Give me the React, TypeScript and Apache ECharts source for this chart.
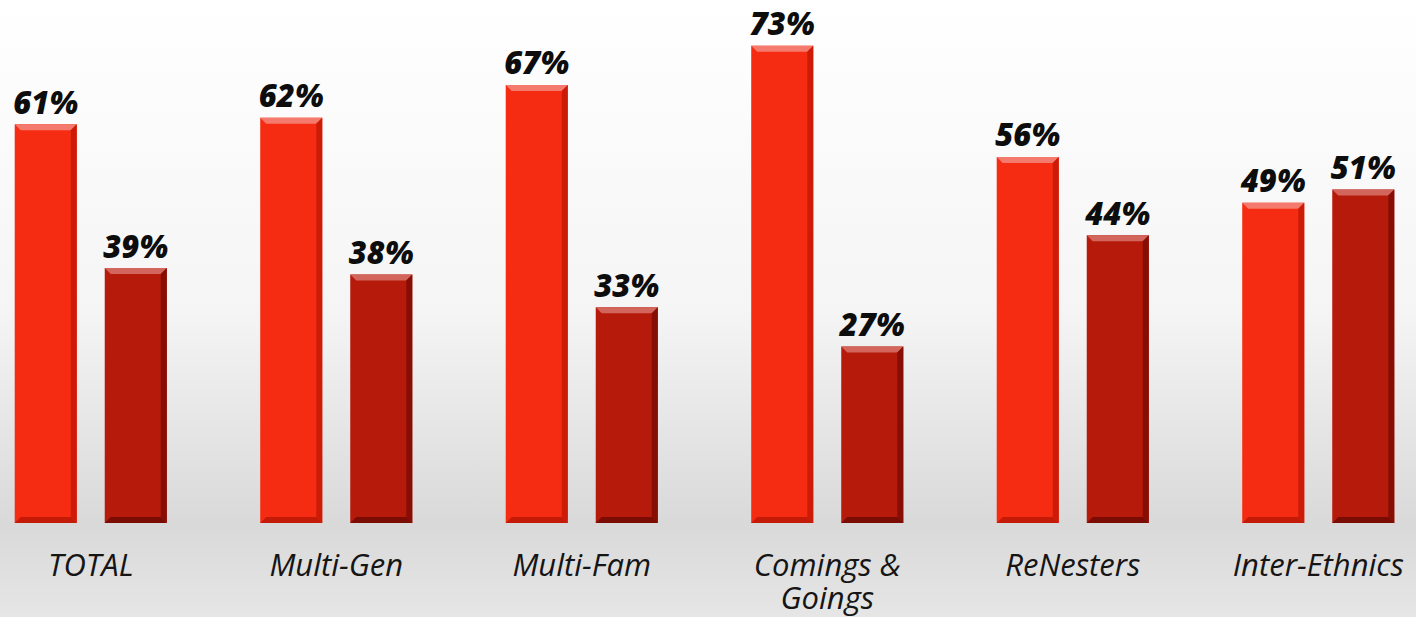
import React, { useEffect, useRef } from "react";
import * as echarts from "echarts";

const categories = ["TOTAL", "Multi-Gen", "Multi-Fam", "Comings &\nGoings", "ReNesters", "Inter-Ethnics"];
const seriesA = [61, 62, 67, 73, 56, 49];
const seriesB = [39, 38, 33, 27, 44, 51];

const palettes = [
  { main: "#f62c12", top: "#f37a6c", right: "#cc1c08", bottom: "#c41a08" },
  { main: "#b51a0b", top: "#d2665c", right: "#860e05", bottom: "#7a0c04" },
];

export default function App() {
  const ref = useRef<HTMLDivElement>(null);
  useEffect(() => {
    const chart = echarts.init(ref.current!, null, { renderer: "svg" });
    const makeRender = (sIdx: number) => (params: any, api: any) => {
      const ci = api.value(0);
      const val = api.value(1);
      const base = api.coord([ci, 0]);
      const topPt = api.coord([ci, val]);
      const band = api.size([1, 0])[0];
      const barW = band * 0.2527;
      const gap = band * 0.114;
      const x = sIdx === 0 ? base[0] - gap / 2 - barW : base[0] + gap / 2;
      const y = topPt[1];
      const h = base[1] - y;
      const p = palettes[sIdx];
      const bev = 6;
      return {
        type: "group",
        children: [
          { type: "rect", shape: { x, y, width: barW, height: h }, style: { fill: p.main } },
          {
            type: "polygon",
            shape: { points: [[x, y], [x + barW, y], [x + barW - bev, y + bev], [x + bev, y + bev]] },
            style: { fill: p.top },
          },
          {
            type: "polygon",
            shape: { points: [[x + barW, y], [x + barW, y + h], [x + barW - bev, y + h - bev], [x + barW - bev, y + bev]] },
            style: { fill: p.right },
          },
          {
            type: "polygon",
            shape: { points: [[x, y + h], [x + barW, y + h], [x + barW - bev, y + h - bev], [x + bev, y + h - bev]] },
            style: { fill: p.bottom },
          },
          {
            type: "text",
            style: {
              x: x + barW / 2,
              y: y - 7,
              text: val + "%",
              align: "center",
              verticalAlign: "bottom",
              fontFamily: "Open Sans",
              fontWeight: 800,
              fontStyle: "italic",
              fontSize: 31,
              fill: "#0d0d0d",
            },
          },
        ],
      };
    };
    chart.setOption({
      animation: false,
      backgroundColor: {
        type: "linear", x: 0, y: 0, x2: 0, y2: 1,
        colorStops: [
          { offset: 0, color: "#ffffff" },
          { offset: 0.5, color: "#f5f5f5" },
          { offset: 0.85, color: "#d9d9d9" },
          { offset: 1, color: "#e6e6e6" },
        ],
      },
      grid: { left: 0, right: 0, top: -3, bottom: 94 },
      xAxis: {
        type: "category",
        data: categories,
        axisLine: { show: false },
        axisTick: { show: false },
        axisLabel: {
          interval: 0,
          margin: 24,
          fontFamily: "Open Sans",
          fontStyle: "italic",
          fontWeight: 400,
          fontSize: 31,
          lineHeight: 33,
          color: "#151515",
        },
      },
      yAxis: { type: "value", min: 0, max: 80, show: false, splitLine: { show: false } },
      series: [
        { type: "custom", data: seriesA.map((v, i) => [i, v]), renderItem: makeRender(0), encode: { x: 0, y: 1 } },
        { type: "custom", data: seriesB.map((v, i) => [i, v]), renderItem: makeRender(1), encode: { x: 0, y: 1 } },
      ],
    });
    return () => chart.dispose();
  }, []);
  return <div ref={ref} style={{ position: "fixed", left: -32, top: 0, width: 1473, height: 617 }} />;
}
